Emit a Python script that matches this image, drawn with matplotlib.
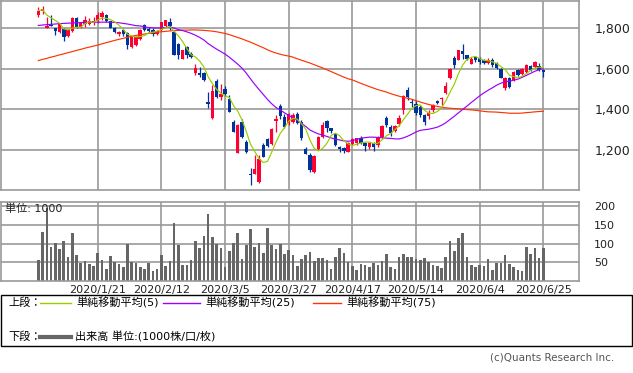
import numpy as np
import pandas as pd
import matplotlib
matplotlib.use("Agg")
import matplotlib.pyplot as plt
from matplotlib.patches import Rectangle
from matplotlib.lines import Line2D

plt.rcParams['font.family'] = ['DejaVu Sans', 'Noto Sans CJK JP']

# daily candles, 2019/12/25 .. 2020/6/25 (120 trading days)
opens = [1860, 1880, 1800, 1814, 1798, 1779, 1795, 1758, 1783, 1849,
         1803, 1820, 1820, 1823, 1832, 1852, 1860, 1832, 1800, 1767,
         1787, 1774, 1705, 1714, 1744, 1811, 1795, 1787, 1767, 1787,
         1806, 1827, 1779, 1722, 1649, 1705, 1673, 1576, 1580, 1579,
         1437, 1356, 1538, 1459, 1502, 1453, 1340, 1188, 1340, 1242,
         1084, 1084, 1047, 1226, 1254, 1231, 1344, 1416, 1364, 1332,
         1340, 1380, 1340, 1208, 1177, 1092, 1206, 1266, 1343, 1307,
         1278, 1218, 1213, 1193, 1231, 1234, 1261, 1234, 1218, 1234,
         1226, 1263, 1356, 1312, 1296, 1328, 1397, 1494, 1437, 1429,
         1410, 1372, 1367, 1395, 1440, 1449, 1481, 1553, 1652, 1644,
         1686, 1665, 1624, 1655, 1654, 1641, 1627, 1644, 1627, 1600,
         1505, 1555, 1543, 1592, 1572, 1583, 1611, 1608, 1613, 1595]
highs = [1900, 1905, 1852, 1860, 1800, 1818, 1798, 1790, 1852, 1852,
         1825, 1855, 1845, 1850, 1875, 1880, 1865, 1835, 1803, 1784,
         1795, 1778, 1760, 1760, 1795, 1820, 1805, 1800, 1790, 1830,
         1838, 1849, 1790, 1725, 1692, 1712, 1680, 1621, 1608, 1585,
         1486, 1519, 1550, 1523, 1515, 1470, 1350, 1330, 1355, 1250,
         1112, 1177, 1177, 1235, 1260, 1310, 1372, 1425, 1380, 1385,
         1383, 1390, 1350, 1215, 1185, 1175, 1270, 1340, 1350, 1310,
         1285, 1222, 1218, 1240, 1262, 1262, 1268, 1242, 1240, 1240,
         1268, 1322, 1370, 1325, 1325, 1372, 1470, 1510, 1450, 1440,
         1420, 1380, 1395, 1425, 1448, 1462, 1535, 1605, 1660, 1692,
         1722, 1668, 1655, 1660, 1657, 1645, 1650, 1650, 1632, 1605,
         1560, 1560, 1588, 1600, 1605, 1620, 1618, 1635, 1625, 1600]
lows = [1852, 1868, 1798, 1806, 1762, 1776, 1735, 1755, 1780, 1800,
        1800, 1803, 1812, 1812, 1825, 1840, 1830, 1798, 1776, 1760,
        1760, 1698, 1703, 1710, 1740, 1786, 1778, 1760, 1762, 1783,
        1804, 1790, 1665, 1649, 1645, 1650, 1650, 1567, 1559, 1540,
        1408, 1354, 1455, 1445, 1468, 1386, 1290, 1185, 1262, 1185,
        1031, 1082, 1039, 1165, 1215, 1228, 1290, 1355, 1308, 1325,
        1335, 1330, 1250, 1180, 1096, 1088, 1200, 1262, 1290, 1285,
        1220, 1190, 1188, 1190, 1225, 1228, 1230, 1198, 1205, 1198,
        1215, 1258, 1312, 1270, 1288, 1318, 1377, 1445, 1410, 1375,
        1365, 1325, 1355, 1390, 1425, 1420, 1475, 1548, 1605, 1640,
        1649, 1640, 1620, 1630, 1624, 1622, 1622, 1610, 1598, 1552,
        1497, 1505, 1540, 1562, 1568, 1580, 1588, 1603, 1590, 1559]
closes = [1884, 1893, 1808, 1808, 1783, 1816, 1754, 1787, 1849, 1803,
          1822, 1839, 1832, 1835, 1860, 1871, 1832, 1800, 1779, 1779,
          1767, 1714, 1758, 1754, 1790, 1790, 1784, 1771, 1783, 1827,
          1836, 1806, 1665, 1665, 1689, 1665, 1657, 1605, 1570, 1543,
          1426, 1491, 1461, 1478, 1475, 1388, 1291, 1323, 1266, 1193,
          1078, 1107, 1156, 1169, 1221, 1302, 1351, 1370, 1312, 1377,
          1372, 1332, 1258, 1183, 1106, 1172, 1266, 1323, 1307, 1296,
          1226, 1206, 1197, 1234, 1254, 1258, 1236, 1221, 1234, 1218,
          1263, 1319, 1323, 1283, 1319, 1356, 1465, 1459, 1430, 1383,
          1372, 1340, 1385, 1421, 1430, 1457, 1514, 1598, 1618, 1689,
          1670, 1649, 1649, 1640, 1634, 1628, 1644, 1618, 1602, 1556,
          1555, 1508, 1583, 1567, 1600, 1616, 1592, 1632, 1595, 1583]
volume = [55, 131, 196, 90, 101, 85, 107, 63, 128, 69,
          47, 54, 45, 40, 74, 55, 32, 66, 50, 45,
          36, 99, 49, 47, 36, 31, 47, 27, 31, 69,
          39, 53, 155, 96, 42, 42, 55, 107, 88, 120,
          180, 117, 99, 88, 36, 80, 101, 128, 58, 96,
          139, 90, 101, 74, 142, 96, 85, 99, 72, 83,
          69, 39, 58, 69, 77, 53, 61, 61, 55, 31,
          64, 88, 74, 50, 39, 28, 45, 42, 36, 47,
          42, 53, 72, 36, 31, 64, 72, 64, 64, 58,
          55, 61, 50, 42, 39, 34, 64, 107, 80, 115,
          128, 64, 42, 36, 42, 39, 58, 28, 47, 47,
          69, 45, 36, 28, 26, 90, 72, 88, 61, 88]

# moving-average values before enough in-window history exists
ma25_head = [1811, 1813, 1815, 1816, 1818, 1820, 1821, 1822, 1823, 1824,
             1825, 1826, 1826, 1827, 1827, 1827, 1827, 1827, 1826, 1824,
             1821, 1818, 1814, 1810]
ma75_head = [1639, 1645, 1650, 1656, 1661, 1667, 1672, 1678, 1683, 1689,
             1694, 1700, 1705, 1710, 1715, 1721, 1727, 1732, 1738, 1743,
             1748, 1753, 1758, 1762, 1766, 1769, 1772, 1775, 1778, 1780,
             1782, 1784, 1786, 1787, 1788, 1788, 1789, 1789, 1788, 1787,
             1785, 1783, 1780, 1776, 1772, 1766, 1759, 1752, 1745, 1737,
             1729, 1720, 1711, 1702, 1692, 1683, 1676, 1670, 1665, 1661,
             1656, 1648, 1641, 1634, 1627, 1619, 1611, 1603, 1594, 1585,
             1576, 1567, 1558, 1550]

tick_idx = [14, 29, 44, 59, 74, 89, 104, 119]
tick_lab = ['2020/1/21', '2020/2/12', '2020/3/5', '2020/3/27',
            '2020/4/17', '2020/5/14', '2020/6/4', '2020/6/25']
price_ticks = [1200, 1400, 1600, 1800]
vol_ticks = [50, 100, 150, 200]

UP = '#ff0033'
DOWN = '#003399'
C5 = '#99cc00'
C25 = '#9900ff'
C75 = '#ff3300'
GRID = '#999999'

n = len(closes)
x = np.arange(n)
o = np.array(opens); h = np.array(highs); l = np.array(lows); c = np.array(closes)
cs = pd.Series(closes, dtype=float)
ma5 = cs.rolling(5, min_periods=1).mean().values
ma25 = cs.rolling(25).mean().values
ma25[:len(ma25_head)] = ma25_head
ma75 = cs.rolling(75).mean().values
ma75[:len(ma75_head)] = ma75_head

W, H = 633, 373
def box(left, top, right, bottom):
    return [left / W, 1 - bottom / H, (right - left) / W, (bottom - top) / H]

fig = plt.figure(figsize=(W / 100, H / 100), dpi=100)
ax = fig.add_axes(box(1, 0.5, 579, 190))
axv = fig.add_axes(box(1, 202, 579, 280.6))

for a in (ax, axv):
    for s in a.spines.values():
        s.set_color(GRID)
        s.set_linewidth(1.2)
    a.set_xlim(-8.8, 127.4)
    a.set_xticks(tick_idx)
    a.grid(True, color=GRID, linewidth=1.2)
    a.set_axisbelow(True)
    a.yaxis.tick_right()
    a.tick_params(length=0, colors='#222222')

# candles
col = np.where(c >= o, UP, DOWN)
ax.vlines(x, l, h, colors=col, linewidth=0.9, zorder=2)
bot = np.minimum(o, c)
hgt = np.maximum(np.abs(c - o), 3)
ax.bar(x, hgt, bottom=bot, width=0.8, color=col, linewidth=0, zorder=3)

ax.plot(x, ma75, color=C75, lw=0.85, zorder=4)
ax.plot(x, ma25, color=C25, lw=0.85, zorder=4)
ax.plot(x, ma5, color=C5, lw=0.85, zorder=5)

ax.set_ylim(1006, 1933)
ax.set_yticks(price_ticks)
ax.set_yticklabels(['{:,}'.format(v) for v in price_ticks])
ax.tick_params(axis='y', pad=11, labelsize=9)
ax.set_xticklabels([])

axv.bar(x, volume, width=0.62, color='#666666', linewidth=0)
axv.set_ylim(0, 212)
axv.set_yticks(vol_ticks)
axv.tick_params(axis='y', pad=11, labelsize=8)
axv.set_xticklabels(tick_lab)
axv.tick_params(axis='x', pad=3, labelsize=8)
axv.text(4 / 578, 1 - 7 / 78.6, '単位: 1000', transform=axv.transAxes,
         fontsize=8, va='center', ha='left', color='#222222')

# legend box
fig.add_artist(Rectangle((0.5 / W, 1 - 346 / H), 631.5 / W, 51 / H,
                         transform=fig.transFigure, fill=False,
                         edgecolor='black', linewidth=1))
def fy(py):
    return 1 - py / H
row1, row2 = 303, 337
fig.text(8 / W, fy(row1), '上段：', fontsize=8, va='center')
for x0, x1, colr, lab in [(40, 71, C5, '単純移動平均(5)'),
                          (163, 200, C25, '単純移動平均(25)'),
                          (313, 341, C75, '単純移動平均(75)')]:
    fig.add_artist(Line2D([x0 / W, x1 / W], [fy(row1)] * 2, color=colr, lw=1.0))
    fig.text((x1 + 5) / W, fy(row1), lab, fontsize=8, va='center')
fig.text(8 / W, fy(row2), '下段：', fontsize=8, va='center')
fig.add_artist(Line2D([40 / W, 71 / W], [fy(row2)] * 2, color='#666666', lw=3))
fig.text(75 / W, fy(row2), '出来高 単位:(1000株/口/枚)', fontsize=8, va='center')

fig.text(614 / W, fy(358), '(c)Quants Research Inc.', fontsize=7.5,
         ha='right', va='center', color='#555555')

fig.savefig('out.png', dpi=100)
